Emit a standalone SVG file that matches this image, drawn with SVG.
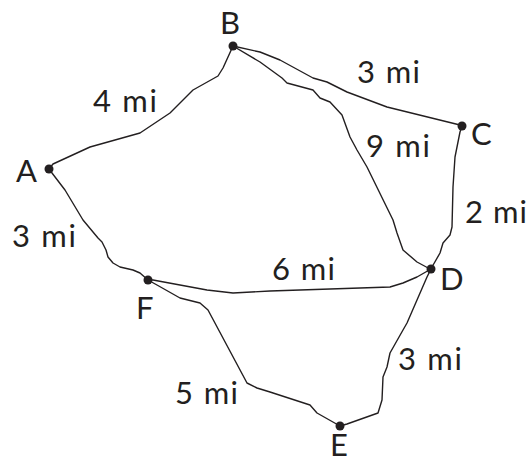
<svg xmlns="http://www.w3.org/2000/svg" width="531" height="463" viewBox="0 0 531 463">
<style>
.e{fill:none;stroke:#231f20;stroke-width:1.4;stroke-linejoin:round;stroke-linecap:round}
.d{fill:#231f20}
text{font-family:Lato,"Open Sans","Liberation Sans",sans-serif;font-size:31px;fill:#231f20}
</style>
<rect width="531" height="463" fill="#fff"/>
<g id="connectors">
<polyline id="AB" class="e" points="49,169 53,164 90,147 140,133 170,113 193,90 218,76 223,68 233,46"/>
<polyline id="AF" class="e" points="49,169 52,173 65,190 83,220 98,238 102,242 106,250 108,257 113,263 120,267 133,270 140,273 148,280"/>
<polyline id="BC" class="e" points="233,46 260,52 280,60 313,78 327,82 347,92 387,107 460,125 462,126"/>
<polyline id="BD" class="e" points="233,46 260,62 282,78 287,83 313,90 320,98 330,102 342,115 350,137 357,150 367,167 393,220 397,233 403,250 417,262 430,269"/>
<polyline id="CD" class="e" points="462,126 460,132 455,157 453,187 452,227 450,235 443,243 440,253 432,267"/>
<polyline id="FD" class="e" points="148,280 153,280 207,290 233,293 270,291 390,287 403,283 417,277 431,269"/>
<polyline id="FE" class="e" points="148,280 157,285 180,298 200,303 208,310 247,383 257,388 270,392 310,405 317,413 340,426"/>
<polyline id="DE" class="e" points="431,269 427,277 417,300 407,323 403,330 390,353 387,367 383,377 382,400 378,413 347,424 340,426"/>
</g>
<g id="A"><circle class="d" cx="49" cy="169" r="4.5"/><text x="16" y="182">A</text></g>
<g id="B"><circle class="d" cx="233" cy="46" r="4.5"/><text x="220" y="34">B</text></g>
<g id="C"><circle class="d" cx="462" cy="126" r="4.5"/><text x="471" y="145">C</text></g>
<g id="D"><circle class="d" cx="431" cy="269" r="4.5"/><text x="440" y="290">D</text></g>
<g id="E"><circle class="d" cx="340" cy="426" r="4.5"/><text x="330" y="456">E</text></g>
<g id="F"><circle class="d" cx="148" cy="280" r="4.5"/><text x="136" y="319">F</text></g>
<g id="labels">
<text x="93" y="112" textLength="64" lengthAdjust="spacing">4 mi</text>
<text x="12" y="247" textLength="64" lengthAdjust="spacing">3 mi</text>
<text x="357" y="83" textLength="63" lengthAdjust="spacing">3 mi</text>
<text x="366" y="157" textLength="64" lengthAdjust="spacing">9 mi</text>
<text x="465" y="223" textLength="62" lengthAdjust="spacing">2 mi</text>
<text x="272" y="280" textLength="63" lengthAdjust="spacing">6 mi</text>
<text x="175" y="404" textLength="63" lengthAdjust="spacing">5 mi</text>
<text x="398" y="370" textLength="64" lengthAdjust="spacing">3 mi</text>
</g>
</svg>
